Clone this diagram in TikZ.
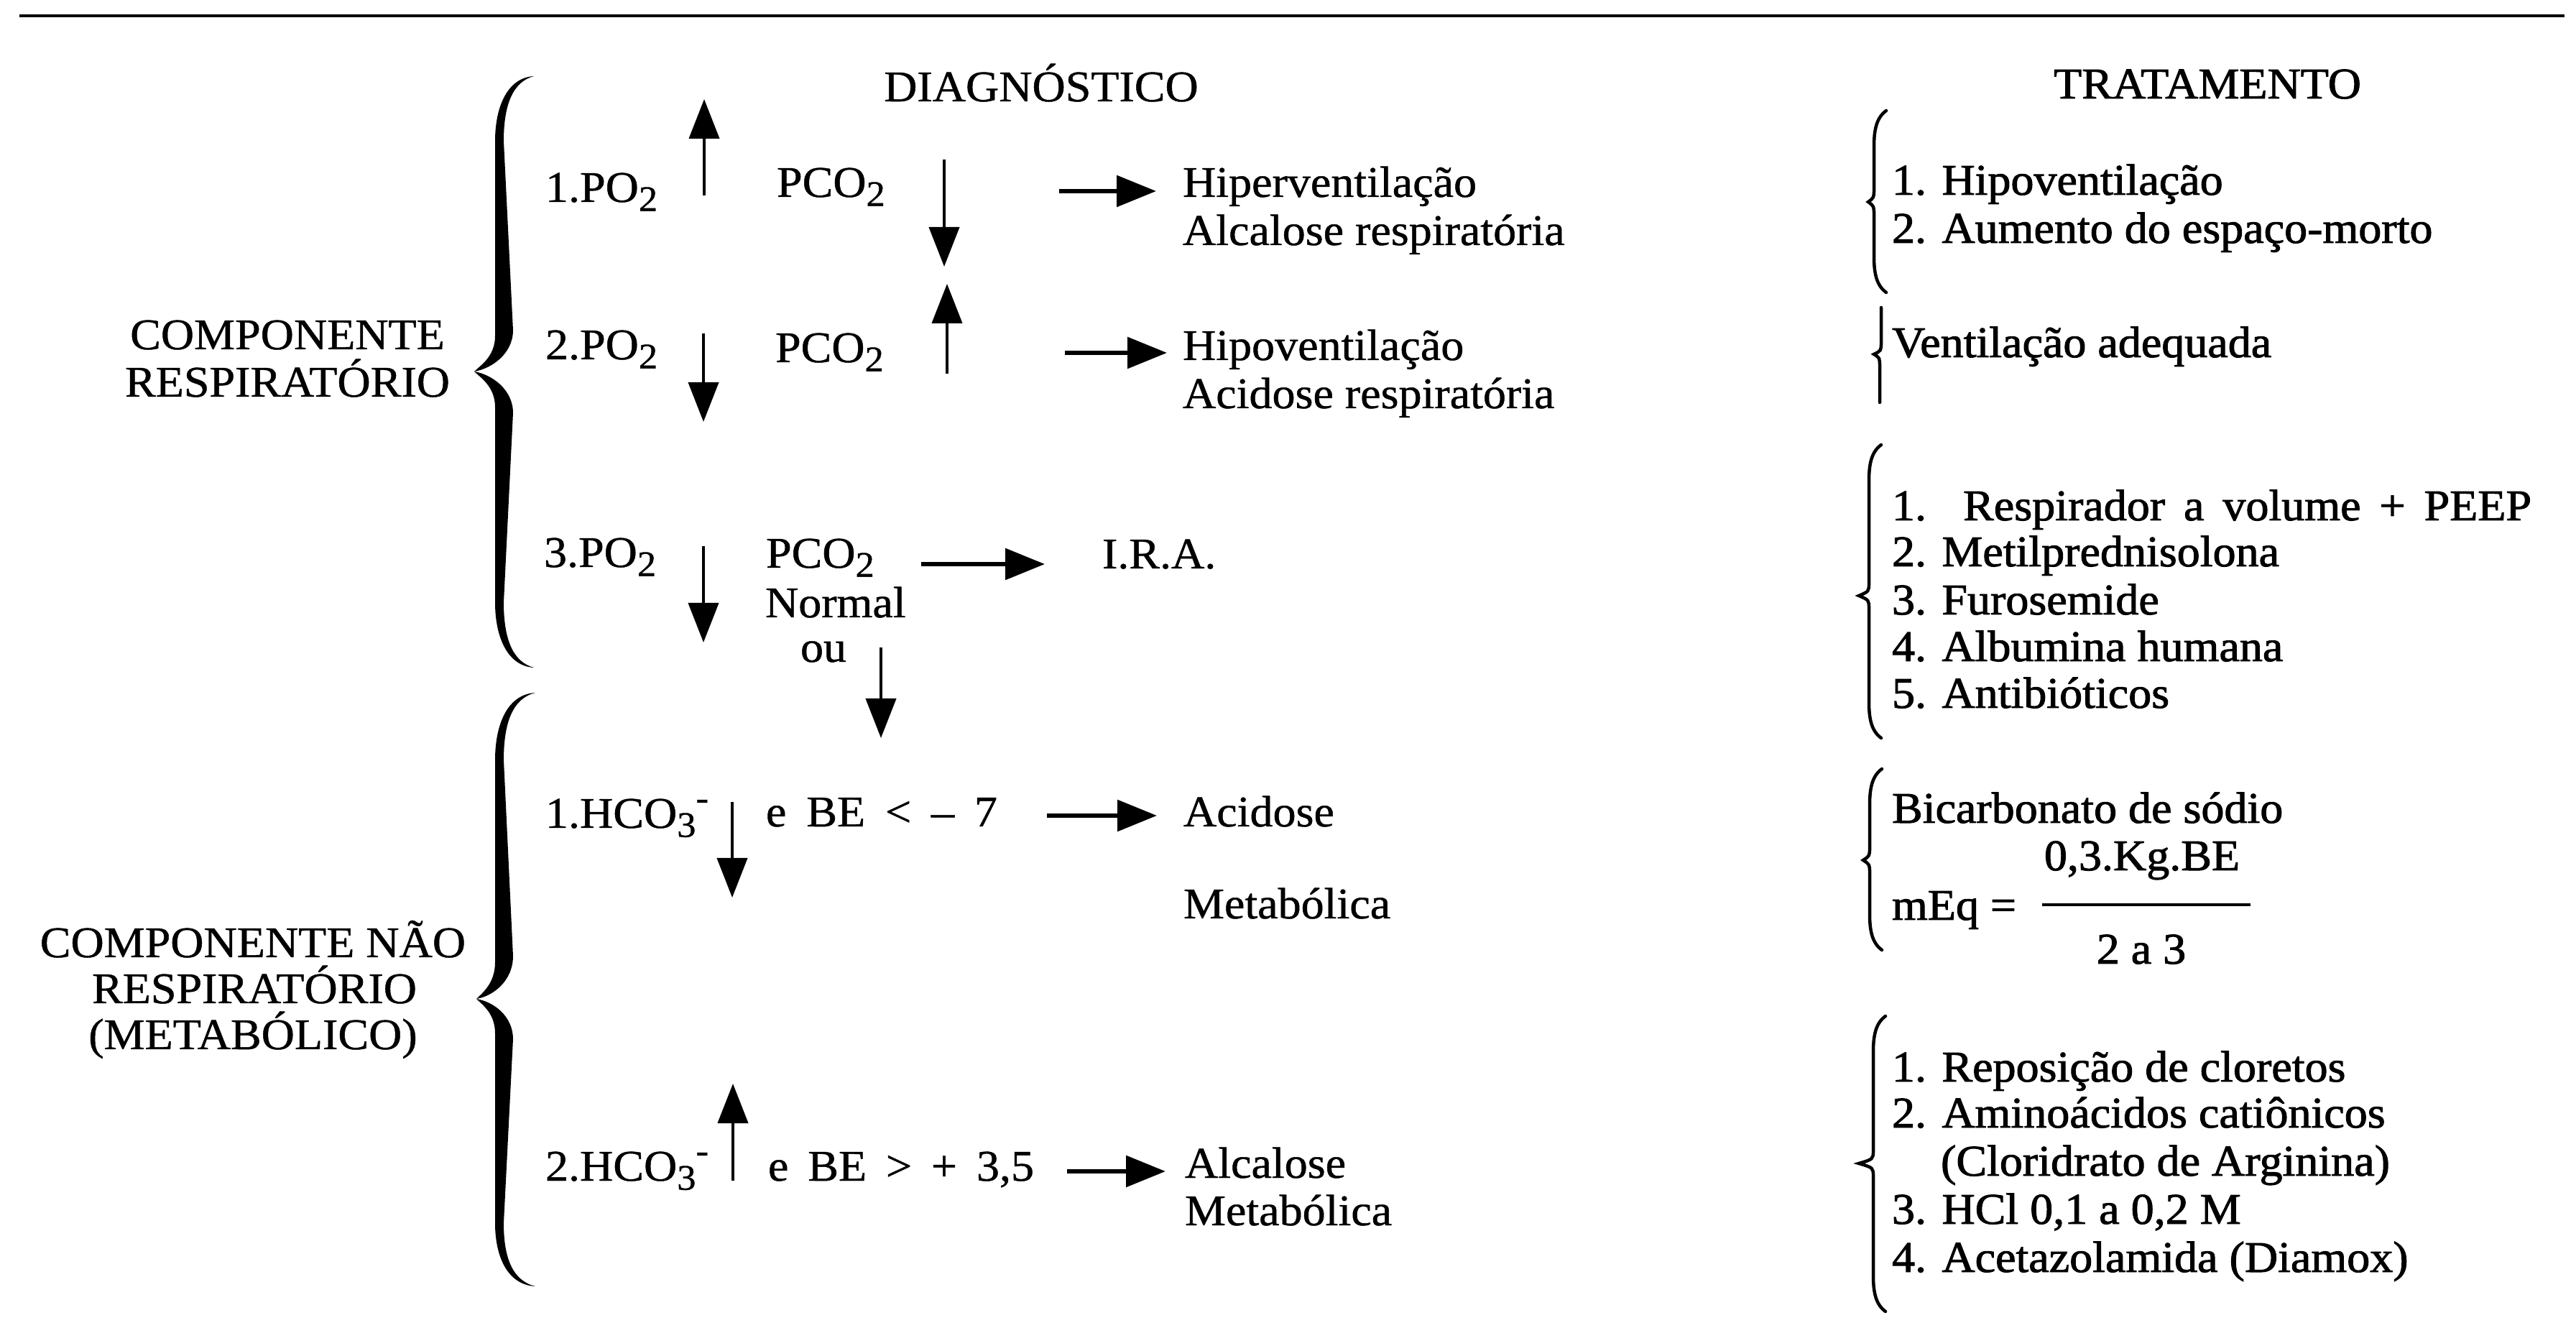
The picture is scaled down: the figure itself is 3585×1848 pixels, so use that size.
\documentclass[tikz,border=0pt]{standalone}
\usepackage{fontspec}
\setmainfont[FakeStretch=1.05,FakeBold=0.8]{Liberation Serif}
\newfontfamily\rcolfont[FakeStretch=1.05,FakeBold=1.6]{Liberation Serif}
\usetikzlibrary{arrows.meta}
\newcommand{\lowr}[1]{\raisebox{-0.45ex}{\fontsize{10}{10}\selectfont #1}}
\newcommand{\highr}[1]{\raisebox{0.9ex}{\fontsize{10}{10}\selectfont #1}}
\tikzset{
 txt/.style={font=\fontsize{12.2}{13}\selectfont, inner sep=0pt, outer sep=0pt, anchor=base west},
 ctxt/.style={txt, anchor=base},
 rtxt/.style={txt, font=\fontsize{12.2}{13}\selectfont\rcolfont},
 crtxt/.style={rtxt, anchor=base},
 varrow/.style={line width=0.8pt, -{Triangle[length=11pt,width=8.4pt]}},
 harrow/.style={line width=1.2pt, -{Triangle[length=11pt,width=8.6pt]}},
 smallbrace/.style={line width=0.9pt, line cap=round},
}
% #1 tip x, #2 spine left x, #3 end x, #4 top y, #5 tip y, #6 bottom y
\newcommand{\BigBrace}[6]{%
 \pgfmathsetmacro\bbhA{#5-#4}%
 \pgfmathsetmacro\bbhB{#6-#5}%
 \fill (#3,#4) .. controls ({#2+18},{#4+2}) and (#2,{#4+0.1*\bbhA}) .. (#2,{#4+0.22*\bbhA})
   -- (#2,{#5-0.12*\bbhA})
   .. controls (#2,{#5-0.05*\bbhA}) and ({#1+8},{#5-8}) .. (#1,#5)
   .. controls ({#1+8},{#5+8}) and (#2,{#5+0.05*\bbhB}) .. (#2,{#5+0.12*\bbhB})
   -- (#2,{#6-0.22*\bbhB})
   .. controls (#2,{#6-0.1*\bbhB}) and ({#2+18},{#6-2}) .. (#3,#6)
   .. controls ({#2+24},{#6-8}) and ({#2+12},{#6-0.1*\bbhB}) .. ({#2+12},{#6-0.22*\bbhB})
   -- ({#2+25},{#5+0.14*\bbhB})
   .. controls ({#2+25},{#5+0.06*\bbhB}) and ({#1+24},{#5+4}) .. (#1,#5)
   .. controls ({#1+24},{#5-4}) and ({#2+25},{#5-0.06*\bbhA}) .. ({#2+25},{#5-0.14*\bbhA})
   -- ({#2+12},{#4+0.22*\bbhA})
   .. controls ({#2+12},{#4+0.1*\bbhA}) and ({#2+24},{#4+8}) .. (#3,#4) -- cycle;
}
% #1 spine x, #2 tip x, #3 top y, #4 tip y, #5 bottom y
\newcommand{\SmallBrace}[5]{%
 \draw[smallbrace] ({#1+17},#3) .. controls ({#1+3},{#3+10}) and (#1,{#3+28}) .. (#1,{#3+50})
   -- (#1,{#4-18}) .. controls (#1,{#4-6}) .. (#2,#4)
   .. controls (#1,{#4+6}) .. (#1,{#4+18})
   -- (#1,{#5-50}) .. controls (#1,{#5-28}) and ({#1+3},{#5-10}) .. ({#1+17},#5);
}
\begin{document}
\begin{tikzpicture}[x=0.2pt,y=-0.2pt]
\useasboundingbox (0,0) rectangle (3585,1848);
% top rule
\coordinate (ruleL) at (27,22);
\coordinate (ruleR) at (3569,22);
\draw[line width=0.9pt] (ruleL) -- (ruleR);
% headers
\node[ctxt] (hdiag) at (1449,141) {DIAGNÓSTICO};
\node[crtxt] (htrat) at (3072,137) {TRATAMENTO};
% left labels
\node[ctxt] (cr1) at (400,486) {COMPONENTE};
\node[ctxt] (cr2) at (400,552) {RESPIRATÓRIO};
\node[ctxt] (cn1) at (352,1332) {COMPONENTE NÃO};
\node[ctxt] (cn2) at (354,1396) {RESPIRATÓRIO};
\node[ctxt] (cn3) at (352,1460) {(METABÓLICO)};
% big braces
\BigBrace{660}{689}{743}{106}{517}{929}
\BigBrace{663}{689}{745}{964}{1390}{1790}
% row 1
\node[txt] (po1) at (759,281) {1.PO\lowr{2}};
\coordinate (u1a) at (980,272); \coordinate (u1b) at (980,138);
\draw[varrow] (u1a) -- (u1b);
\node[txt] (pc1) at (1081,274) {PCO\lowr{2}};
\coordinate (d1a) at (1314,222); \coordinate (d1b) at (1314,371);
\draw[varrow] (d1a) -- (d1b);
\coordinate (h1a) at (1474,266); \coordinate (h1b) at (1609,266);
\draw[harrow] (h1a) -- (h1b);
\node[txt] (r1a) at (1646,274) {Hiperventilação};
\node[txt] (r1b) at (1646,341) {Alcalose respiratória};
% row 2
\node[txt] (po2) at (759,500) {2.PO\lowr{2}};
\coordinate (d2a) at (979,464); \coordinate (d2b) at (979,587);
\draw[varrow] (d2a) -- (d2b);
\node[txt] (pc2) at (1079,504) {PCO\lowr{2}};
\coordinate (u2a) at (1318,520); \coordinate (u2b) at (1318,395);
\draw[varrow] (u2a) -- (u2b);
\coordinate (h2a) at (1482,491); \coordinate (h2b) at (1624,491);
\draw[harrow] (h2a) -- (h2b);
\node[txt] (r2a) at (1646,501) {Hipoventilação};
\node[txt] (r2b) at (1646,568) {Acidose respiratória};
% row 3
\node[txt] (po3) at (757,789) {3.PO\lowr{2}};
\coordinate (d3a) at (979,760); \coordinate (d3b) at (979,894);
\draw[varrow] (d3a) -- (d3b);
\node[txt] (pc3) at (1066,790) {PCO\lowr{2}};
\node[txt] (nor) at (1065,859) {Normal};
\node[txt] (ou) at (1114,921) {ou};
\coordinate (h3a) at (1282,785); \coordinate (h3b) at (1454,785);
\draw[harrow] (h3a) -- (h3b);
\node[txt] (ira) at (1534,791) {I.R.A.};
\coordinate (d4a) at (1226,901); \coordinate (d4b) at (1226,1027);
\draw[varrow] (d4a) -- (d4b);
% row 4
\node[txt] (hc1) at (759,1152) {1.HCO\lowr{3}\highr{-}};
\coordinate (d5a) at (1019,1116); \coordinate (d5b) at (1019,1249);
\draw[varrow] (d5a) -- (d5b);
\node[txt] (be1) at (1066,1150) {\makebox[64.4pt][s]{e BE < – 7}};
\coordinate (h4a) at (1457,1135); \coordinate (h4b) at (1610,1135);
\draw[harrow] (h4a) -- (h4b);
\node[txt] (ac1) at (1647,1150) {Acidose};
\node[txt] (ac2) at (1647,1278) {Metabólica};
% row 5
\node[txt] (hc2) at (759,1643) {2.HCO\lowr{3}\highr{-}};
\coordinate (u5a) at (1020,1643); \coordinate (u5b) at (1020,1508);
\draw[varrow] (u5a) -- (u5b);
\node[txt] (be2) at (1069,1643) {\makebox[74pt][s]{e BE > + 3,5}};
\coordinate (h5a) at (1485,1630); \coordinate (h5b) at (1622,1630);
\draw[harrow] (h5a) -- (h5b);
\node[txt] (al1) at (1649,1639) {Alcalose};
\node[txt] (al2) at (1649,1705) {Metabólica};
% right column braces
\SmallBrace{2608}{2600}{154}{281}{407}
\draw[smallbrace] (2618,428) -- (2618,476) .. controls (2618,488) .. (2608,493)
   .. controls (2616,498) .. (2616,510) -- (2616,560);
\SmallBrace{2601}{2587}{619}{829}{1027}
\SmallBrace{2602}{2593}{1070}{1197}{1322}
\SmallBrace{2607}{2587}{1414}{1619}{1825}
% right column text
\node[rtxt] (ta1) at (2633,271) {1. Hipoventilação};
\node[rtxt] (ta2) at (2633,338) {2. Aumento do espaço-morto};
\node[rtxt] (tb1) at (2633,497) {Ventilação adequada};
\node[rtxt] (tc1) at (2633,724) {\makebox[178pt][s]{1. Respirador a volume + PEEP}};
\node[rtxt] (tc2) at (2633,788) {2. Metilprednisolona};
\node[rtxt] (tc3) at (2633,855) {3. Furosemide};
\node[rtxt] (tc4) at (2633,920) {4. Albumina humana};
\node[rtxt] (tc5) at (2633,985) {5. Antibióticos};
\node[rtxt] (td1) at (2633,1145) {Bicarbonato de sódio};
\node[crtxt] (td2) at (2981,1211) {0,3.Kg.BE};
\node[rtxt] (td3) at (2633,1280) {mEq =};
\coordinate (fbL) at (2842,1259); \coordinate (fbR) at (3132,1259);
\draw[line width=0.9pt] (fbL) -- (fbR);
\node[crtxt] (td4) at (2980,1341) {2 a 3};
\node[rtxt] (te1) at (2633,1505) {1. Reposição de cloretos};
\node[rtxt] (te2) at (2633,1569) {2. Aminoácidos catiônicos};
\node[rtxt] (te3) at (2701,1636) {(Cloridrato de Arginina)};
\node[rtxt] (te4) at (2633,1703) {3. HCl 0,1 a 0,2 M};
\node[rtxt] (te5) at (2633,1770) {4. Acetazolamida (Diamox)};
\end{tikzpicture}
\end{document}
